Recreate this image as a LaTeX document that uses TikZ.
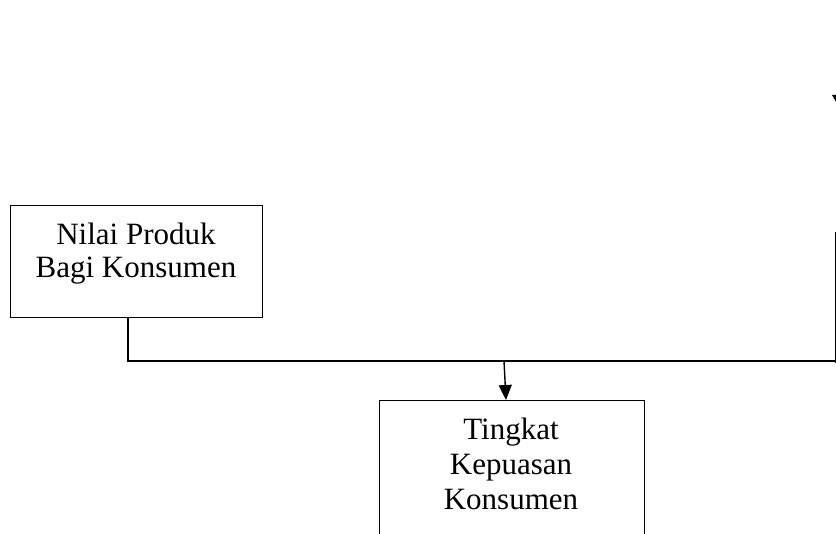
\documentclass[tikz,border=0pt]{standalone}
\usepackage{fontspec}
\setmainfont{Liberation Serif}
\usetikzlibrary{arrows.meta}
\begin{document}
\begin{tikzpicture}[x=1pt,y=-1pt,
  box/.style={draw=black, line width=1.4pt, rectangle, inner sep=0pt},
  line/.style={draw=black, line width=1.4pt},
  txt/.style={font=\fontsize{31}{34}\selectfont, inner sep=0pt, anchor=base},
  arr/.style={line, -{Triangle[width=13pt,length=15pt]}}]
\useasboundingbox (0,0) rectangle (836,534);
\clip (0,0) rectangle (836,534);
% left box
\node[box, minimum width=252pt, minimum height=112pt, anchor=north west] (nilai) at (10,205) {};
\node[txt] (nilai1) at (136,245) {Nilai Produk};
\node[txt] (nilai2) at (136,278) {Bagi Konsumen};
% bottom box (cut off)
\node[box, minimum width=265pt, minimum height=170pt, anchor=north west] (kepuasan) at (379,400) {};
\node[txt] (kep1) at (511,440) {Tingkat};
\node[txt] (kep2) at (511,475) {Kepuasan};
\node[txt] (kep3) at (511,510) {Konsumen};
% right partial box
\node[box, minimum width=100pt, minimum height=130pt, anchor=north west] (kanan) at (835,232) {};
% connectors
\coordinate (c0) at (128,317);
\coordinate (c1) at (128,361);
\coordinate (c2) at (835,361);
\coordinate (m1) at (504,361);
\coordinate (m2) at (506,400);
\draw[line] (c0) -- (c1) -- (c2);
\draw[arr] (m1) -- (m2);
% partial arrowhead at top right
\fill[black] (832,95) -- (846,95) -- (839,107) -- cycle;
\end{tikzpicture}
\end{document}
